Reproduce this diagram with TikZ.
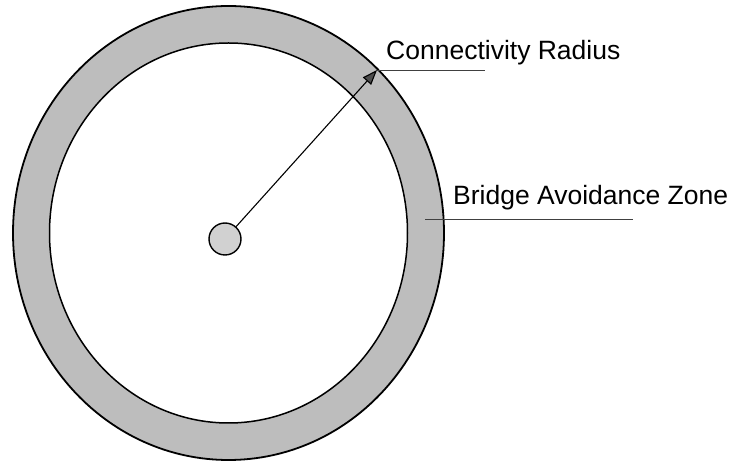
\documentclass[tikz,border=0pt]{standalone}
\usepackage{fontspec}
\setmainfont{Liberation Sans}
\usetikzlibrary{arrows.meta}

\begin{document}
\begin{tikzpicture}[x=1pt, y=-1pt,
    ring/.style={fill=black!26},
    edge/.style={line width=1.8pt, black},
    lbl/.style={anchor=base west, inner sep=0pt, font=\fontsize{26.5}{30}\selectfont},
    leader/.style={line width=0.9pt, black!75}]

    % Define parameters (outer and inner radii of the zone, in px)
    \pgfmathsetmacro{\rxo}{215.5} % outer, horizontal
    \pgfmathsetmacro{\ryo}{227}   % outer, vertical
    \pgfmathsetmacro{\rxi}{179}   % inner, horizontal
    \pgfmathsetmacro{\ryi}{190}   % inner, vertical

    \useasboundingbox (0,0) rectangle (732,462);

    \coordinate (O) at (228.5,233); % centre of the zone

    % --- 1. Draw the avoidance ring ---
    \fill[ring, even odd rule] (O) ellipse ({\rxo} and {\ryo}) (O) ellipse ({\rxi} and {\ryi});
    \draw[edge] (O) ellipse ({\rxo} and {\ryo});
    \draw[edge, line width=1.5pt] (O) ellipse ({\rxi} and {\ryi});

    % --- 2. The node in the middle ---
    \node[circle, draw, line width=1.4pt, fill=black!18, minimum size=32pt, inner sep=0pt] (hub) at (225,239) {};

    \coordinate (tip) at (377,70);   % on the outer edge
    \coordinate (zone) at (425,219); % inside the ring

    % --- 3. Labels ---
    \node[lbl] (radius) at (386,60) {Connectivity Radius};
    \node[lbl] (bridge) at (453,205) {Bridge Avoidance Zone};

    \coordinate (radiusend) at (485,70);
    \coordinate (bridgeend) at (633,219);

    % --- 4. Connectors ---
    \draw[line width=1.1pt, -{Triangle[length=15pt, width=11pt, fill=black!70]}] (hub) -- (tip);
    \draw[leader] (tip) -- (radiusend);
    \draw[leader] (zone) -- (bridgeend);

\end{tikzpicture}
\end{document}
